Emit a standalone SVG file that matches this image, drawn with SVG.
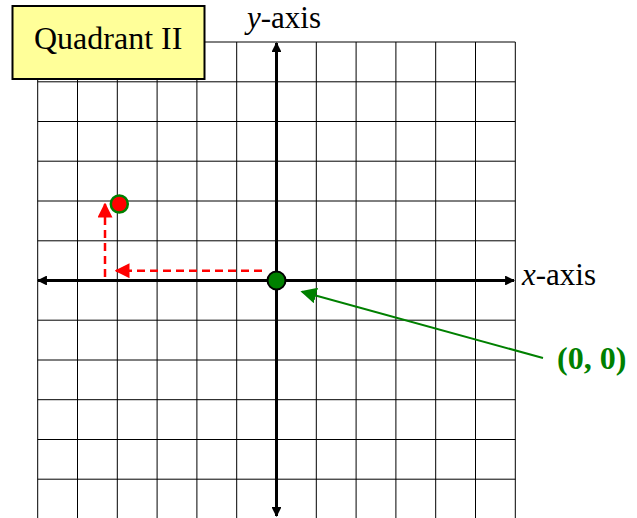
<svg xmlns="http://www.w3.org/2000/svg" width="637" height="518" viewBox="0 0 637 518">
<style>
.grid line{stroke:#000;stroke-width:1}
.axis{stroke:#000;stroke-width:3;fill:none}
.lbl{font-family:"Liberation Serif",serif;font-size:31px;fill:#000}
.red{stroke:#f00;stroke-width:2.5;stroke-dasharray:8,5;fill:none}
</style>
<defs>
<marker id="ah" viewBox="0 0 10 10" refX="9" refY="5" markerWidth="3.3" markerHeight="3.3" orient="auto" markerUnits="strokeWidth"><path d="M0,0L10,5L0,10z" fill="#000"/></marker>
<marker id="rh" viewBox="0 0 10 10" refX="9" refY="5" markerWidth="6" markerHeight="6" orient="auto" markerUnits="strokeWidth"><path d="M0,0L10,5L0,10z" fill="#f00"/></marker>
<marker id="gh" viewBox="0 0 10 10" refX="9" refY="5" markerWidth="8" markerHeight="8" orient="auto" markerUnits="strokeWidth"><path d="M0,0L10,5L0,10z" fill="#008000"/></marker>
</defs>
<g id="grid" class="grid">
<line x1="37.7" y1="42" x2="37.7" y2="518"/>
<line x1="77.5" y1="42" x2="77.5" y2="518"/>
<line x1="117.3" y1="42" x2="117.3" y2="518"/>
<line x1="157.1" y1="42" x2="157.1" y2="518"/>
<line x1="196.9" y1="42" x2="196.9" y2="518"/>
<line x1="236.7" y1="42" x2="236.7" y2="518"/>
<line x1="316.3" y1="42" x2="316.3" y2="518"/>
<line x1="356.1" y1="42" x2="356.1" y2="518"/>
<line x1="395.9" y1="42" x2="395.9" y2="518"/>
<line x1="435.7" y1="42" x2="435.7" y2="518"/>
<line x1="475.5" y1="42" x2="475.5" y2="518"/>
<line x1="515.3" y1="42" x2="515.3" y2="518"/>
<line x1="37.7" y1="42" x2="515.3" y2="42"/>
<line x1="37.7" y1="81.8" x2="515.3" y2="81.8"/>
<line x1="37.7" y1="121.5" x2="515.3" y2="121.5"/>
<line x1="37.7" y1="161.2" x2="515.3" y2="161.2"/>
<line x1="37.7" y1="201" x2="515.3" y2="201"/>
<line x1="37.7" y1="240.8" x2="515.3" y2="240.8"/>
<line x1="37.7" y1="320.2" x2="515.3" y2="320.2"/>
<line x1="37.7" y1="360" x2="515.3" y2="360"/>
<line x1="37.7" y1="399.7" x2="515.3" y2="399.7"/>
<line x1="37.7" y1="439.5" x2="515.3" y2="439.5"/>
<line x1="37.7" y1="479.2" x2="515.3" y2="479.2"/>
</g>
<g id="connectors">
<line class="axis" x1="276.5" y1="505" x2="276.5" y2="43" marker-end="url(#ah)"/>
<line class="axis" x1="276.5" y1="270" x2="276.5" y2="516" marker-end="url(#ah)"/>
<line class="axis" x1="276.5" y1="280.5" x2="514" y2="280.5" marker-end="url(#ah)"/>
<line class="axis" x1="276.5" y1="280.5" x2="38" y2="280.5" marker-end="url(#ah)"/>
<line class="red" x1="262" y1="270.7" x2="116" y2="270.7" marker-end="url(#rh)"/>
<line class="red" x1="105" y1="277" x2="105" y2="204" marker-end="url(#rh)"/>
<line x1="543" y1="358" x2="302" y2="291.7" stroke="#008000" stroke-width="2" marker-end="url(#gh)"/>
</g>
<g id="quadrant-label">
<rect x="12.5" y="6" width="192" height="73" fill="#ffff99" stroke="#000" stroke-width="2"/>
<text x="34" y="49" style="font-family:'Liberation Serif',serif;font-size:32px">Quadrant II</text>
</g>
<g id="y-label"><text class="lbl" x="247" y="28"><tspan font-style="italic">y</tspan>-axis</text></g>
<g id="x-label"><text class="lbl" x="522" y="285"><tspan font-style="italic">x</tspan>-axis</text></g>
<g id="origin"><circle cx="276.5" cy="280.5" r="9" fill="#008000" stroke="#000" stroke-width="2"/></g>
<g id="point"><circle cx="119.3" cy="204" r="8.5" fill="#f00" stroke="#008000" stroke-width="2.5"/></g>
<g id="origin-label"><text x="557" y="369" style="font-family:'Liberation Serif',serif;font-size:32px;font-weight:bold;fill:#008000">(0, 0)</text></g>
</svg>
